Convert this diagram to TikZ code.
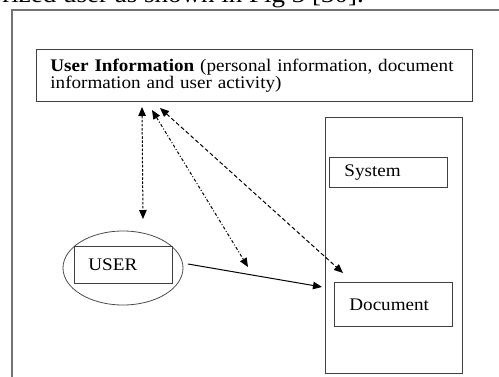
\documentclass[tikz,border=0pt]{standalone}
\usepackage{fontspec}
\setmainfont[FakeStretch=1.08]{Liberation Serif}
\usetikzlibrary{arrows.meta,shapes.geometric}
\begin{document}
\begin{tikzpicture}[x=1pt,y=-1pt,
  box/.style={draw=black!75,line width=0.8pt,rectangle,inner ysep=0pt},
  lbl/.style={font=\fontsize{17.7}{17.3}\selectfont},
  tip/.style={-{Triangle[length=9pt,width=7.5pt]}},
  dtip/.style={{Triangle[length=9pt,width=7.5pt]}-{Triangle[length=9pt,width=7.5pt]}},
  fine dash/.style={dash pattern=on 2.5pt off 1.6pt},
  dash dot/.style={dash pattern=on 3pt off 2pt on 1pt off 2pt},
  long dash/.style={dash pattern=on 4pt off 2.5pt},
  conn/.style={line width=1pt,black}]
\useasboundingbox (0,0) rectangle (499,376);
\fill[white] (0,0) rectangle (499,376);

% running text of the page, cut by the page edge
\node[anchor=base east,inner sep=0pt,font=\fontsize{25}{25}\selectfont] (caption) at (364,2) {authorized user as shown in Fig 3 [30].};

% outer frame (only top and left edges on the page)
\draw[black!55,line width=1.6pt] (12,385) -- (12,10) -- (510,10);

% user information box
\node[box,lbl,anchor=north west,minimum width=436pt,minimum height=52pt,
      text width=420pt,inner xsep=8pt,align=left] (info) at (36,49)
  {\hspace*{6pt}\textbf{User Information} (personal information, document\\\hspace*{6pt}information and user activity)};

% system column
\node[box,anchor=north west,minimum width=137pt,minimum height=256pt] (sysframe) at (325,117) {};
\node[box,lbl,anchor=north west,minimum width=118pt,minimum height=30pt,
      text width=88pt,inner xsep=15pt,align=left] (system) at (329,157) {System};
\node[box,lbl,anchor=north west,minimum width=118pt,minimum height=44pt,
      text width=88pt,inner xsep=15pt,align=left] (document) at (334,282) {Document};

% user
\node[draw=black!70,line width=0.8pt,ellipse,minimum width=120pt,minimum height=74pt] (userell) at (123,268) {};
\node[box,lbl,anchor=north west,minimum width=98pt,minimum height=37pt,
      text width=70pt,inner xsep=14pt,align=left] (userbox) at (74,246) {USER};

% connector end points
\coordinate (infoA) at (142,107);
\coordinate (infoB) at (152,110);
\coordinate (infoC) at (160,108);
\coordinate (userTop) at (143,219);
\coordinate (midTip) at (248,267);
\coordinate (docTip) at (343,273);
\coordinate (userOut) at (188,264);
\coordinate (sysIn) at (322,287);

\draw[conn,dtip,fine dash] (infoA) -- (userTop);
\draw[conn,dtip,dash dot] (infoB) -- (midTip);
\draw[conn,dtip,long dash] (infoC) -- (docTip);
\draw[conn,tip] (userOut) -- (sysIn);
\end{tikzpicture}
\end{document}
